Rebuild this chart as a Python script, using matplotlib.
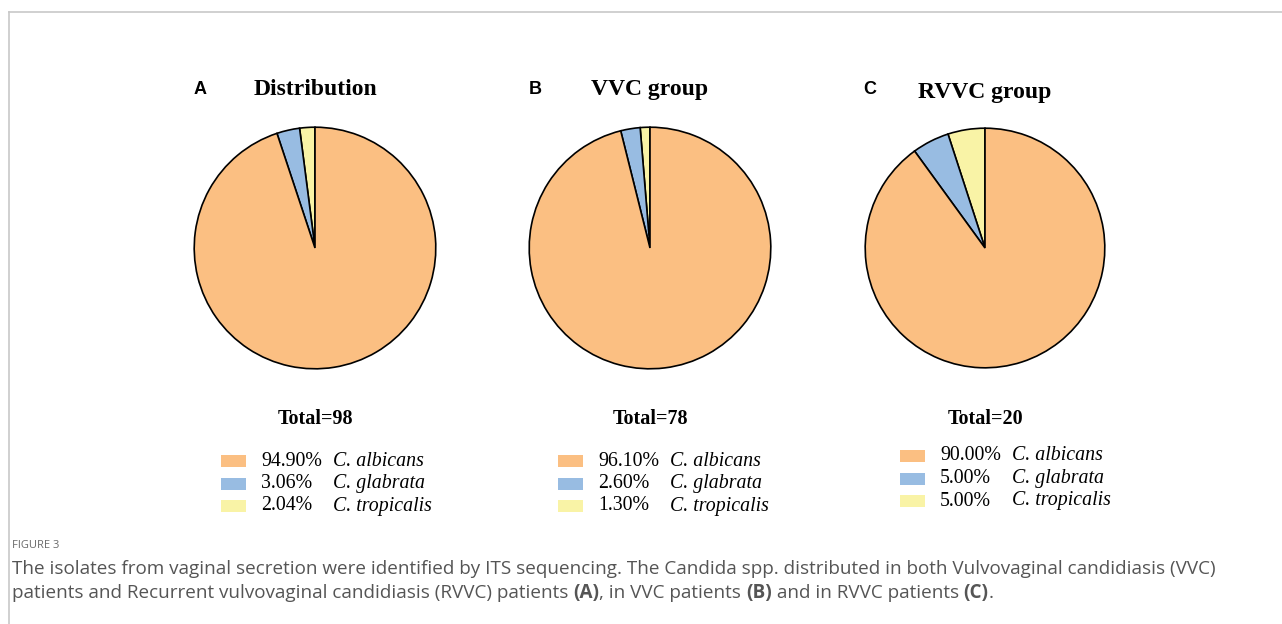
import matplotlib.pyplot as plt
from matplotlib.patches import Rectangle
from matplotlib.lines import Line2D

W, H = 1282, 624

# data
species = ['C. albicans', 'C. glabrata', 'C. tropicalis']
colors = ['#fbbf82', '#98bce2', '#f9f3a6']
panel_letters = ['A', 'B', 'C']
panel_titles = ['Distribution', 'VVC group', 'RVVC group']
totals = [98, 78, 20]
pct_dist = [94.90, 3.06, 2.04]
pct_vvc = [96.10, 2.60, 1.30]
pct_rvvc = [90.00, 5.00, 5.00]
pct_labels_dist = ['94.90%', '3.06%', '2.04%']
pct_labels_vvc = ['96.10%', '2.60%', '1.30%']
pct_labels_rvvc = ['90.00%', '5.00%', '5.00%']

caption_head = 'FIGURE 3'
caption_parts_1 = [('The isolates from vaginal secretion were identified by ITS sequencing. '
                    'The Candida spp. distributed in both Vulvovaginal candidiasis (VVC)', 'normal')]
caption_parts_2 = [('patients and Recurrent vulvovaginal candidiasis (RVVC) patients ', 'normal'),
                   ('(A)', 'bold'), (', in VVC patients ', 'normal'), ('(B)', 'bold'),
                   (' and in RVVC patients ', 'normal'), ('(C)', 'bold'), ('.', 'normal')]

serif = 'Liberation Serif'
sans = 'Liberation Sans'


def fx(px):
    return px / W


def fy(py):
    return 1 - py / H


fig = plt.figure(figsize=(W / 100, H / 100), dpi=100)
fig.patch.set_facecolor('white')

# thin page frame
fig.add_artist(Line2D([fx(9), 1], [fy(12), fy(12)], color='#c8c8c8', lw=1.2, transform=fig.transFigure))
fig.add_artist(Line2D([fx(9), fx(9)], [fy(12), 0], color='#c8c8c8', lw=1.2, transform=fig.transFigure))

panels = [
    dict(pct=pct_dist, lab=pct_labels_dist, cx=315, cy=248, r=122, ty=88, lx=200, leg_x=221, leg_y=460),
    dict(pct=pct_vvc, lab=pct_labels_vvc, cx=650, cy=248, r=122, ty=88, lx=535, leg_x=558, leg_y=460),
    dict(pct=pct_rvvc, lab=pct_labels_rvvc, cx=985, cy=248, r=121, ty=91, lx=870, leg_x=900, leg_y=455),
]

for i, p in enumerate(panels):
    cx, cy, r = p['cx'], p['cy'], p['r']
    ax = fig.add_axes([fx(cx - r), fy(cy + r), 2 * r / W, 2 * r / H])
    # reversed so tropicalis sits right after 12 o'clock going counterclockwise
    ax.pie(p['pct'][::-1], colors=colors[::-1], startangle=90, counterclock=True,
           wedgeprops=dict(edgecolor='black', linewidth=1.2))
    ax.set_xlim(-1.01, 1.01)
    ax.set_ylim(-1.01, 1.01)
    ax.axis('off')

    fig.text(fx(p['lx']), fy(89), panel_letters[i], fontsize=13, fontweight='bold',
             family=sans, ha='center', va='center')
    fig.text(fx(cx), fy(p['ty'] + 1.5), panel_titles[i], fontsize=17, fontweight='bold',
             family=serif, ha='center', va='center')
    fig.text(fx(cx), fy(419), 'Total=%d' % totals[i], fontsize=14.5, fontweight='bold',
             family=serif, ha='center', va='center')

    for j, sp in enumerate(species):
        yy = p['leg_y'] + 1 + j * 22.5
        fig.add_artist(Rectangle((fx(p['leg_x']), fy(yy + 6)), 25 / W, 12 / H,
                                 facecolor=colors[j], edgecolor='none', transform=fig.transFigure))
        fig.text(fx(p['leg_x'] + 40), fy(yy), p['lab'][j], fontsize=14.3, family=serif,
                 ha='left', va='center')
        fig.text(fx(p['leg_x'] + 112), fy(yy), sp, fontsize=14.3, family=serif, style='italic',
                 ha='left', va='center')

# caption
cap_font = 'Open Sans'
cap_color = '#555555'
fig.text(fx(12), fy(546), caption_head, fontsize=8, family=cap_font, color='#6a6a6a',
         ha='left', va='center')

renderer = fig.canvas.get_renderer()


def write_line(parts, y):
    x = fx(12)
    for txt, wt in parts:
        t = fig.text(x, fy(y), txt, fontsize=13.6, family=cap_font, color=cap_color,
                     fontweight=wt, ha='left', va='center')
        bb = t.get_window_extent(renderer=renderer)
        x += bb.width / W


write_line(caption_parts_1, 569)
write_line(caption_parts_2, 593)

fig.savefig('out.png', dpi=100, facecolor='white')
